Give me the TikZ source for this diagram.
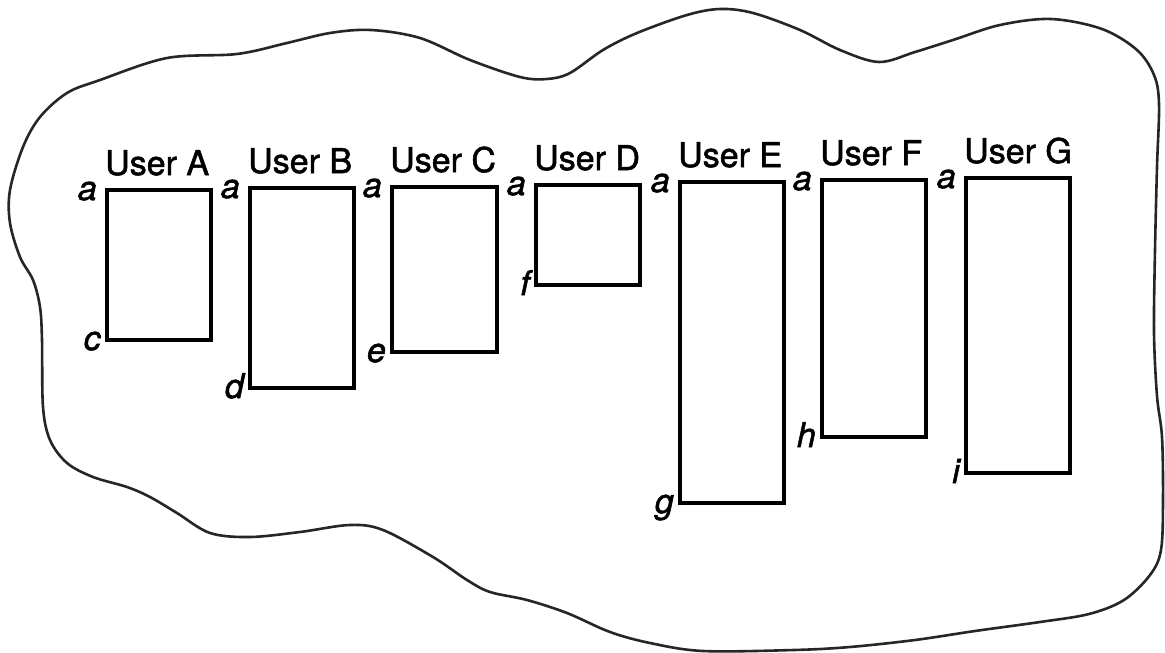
\documentclass[tikz,border=0pt]{standalone}
\usepackage{fontspec}
\setmainfont{TeX Gyre Heros}
\newfontfamily\ufont{TeX Gyre Heros}[FakeBold=1.6]
\begin{document}
\begin{tikzpicture}[x=1pt,y=-1pt,
  ubox/.style={draw=black, line width=3.3pt, rectangle, inner sep=0pt, outer sep=0pt, anchor=north west},
  blob/.style={draw=black!85, line width=2.6pt},
  ulab/.style={font=\ufont\fontsize{34}{38}\selectfont, inner sep=0pt, anchor=base west},
  lab/.style={font=\ufont\fontsize{34}{38}\selectfont\itshape, inner sep=0pt, anchor=base east}]
\useasboundingbox[fill=white] (0,0) rectangle (1165,653);
\draw[blob] plot[smooth cycle, tension=0.55] coordinates {
 (10,190) (23,147) (40,117) (67,93) (100,80) (167,58) (237,54) (287,43) (330,33)
 (371,30) (420,38) (470,60) (520,77) (547,79) (570,73) (603,50) (637,33) (687,15)
 (720,9) (753,13) (800,30) (840,50) (879,62) (915,52) (953,40) (1000,25) (1051,19)
 (1102,29) (1137,50) (1154,75) (1159,104) (1157,167) (1155,250) (1154,333)
 (1157,396) (1162,437) (1163,500) (1161,550) (1150,575) (1124,600) (1089,614)
 (1040,622) (975,631) (915,640) (850,647) (794,650) (703,651) (650,643) (610,632)
 (567,613) (527,600) (490,592) (467,580) (433,557) (383,530) (350,525) (300,532)
 (250,537) (210,533) (177,513) (150,497) (127,487) (93,477) (67,463) (50,440)
 (43,407) (42,340) (40,307) (33,280) (20,257) (10,223)};
% boxes
\node[ubox, minimum width=104pt, minimum height=150pt] (A) at (107,190) {};
\node[ubox, minimum width=104pt, minimum height=200pt] (B) at (250,188) {};
\node[ubox, minimum width=105pt, minimum height=165pt] (C) at (392,187) {};
\node[ubox, minimum width=104pt, minimum height=100pt] (D) at (536,185) {};
\node[ubox, minimum width=104pt, minimum height=321pt] (E) at (680,182) {};
\node[ubox, minimum width=104pt, minimum height=257pt] (F) at (822,180) {};
\node[ubox, minimum width=104pt, minimum height=295pt] (G) at (966,178) {};
% user labels
\foreach \b/\t in {A/User A,B/User B,C/User C,D/User D,E/User E,F/User F,G/User G}{
  \node[ulab] (U\b) at ([xshift=-2pt,yshift=15pt]\b.north west) {\t};
  \node[lab] (a\b) at ([xshift=-10pt,yshift=-10pt]\b.north west) {a};
}
% bottom labels
\foreach \b/\t in {A/c,B/d,C/e,D/f,E/g,F/h,G/i}{
  \node[lab] (l\b) at ([xshift=-6pt,yshift=-10pt]\b.south west) {\t};
}
\end{tikzpicture}
\end{document}
